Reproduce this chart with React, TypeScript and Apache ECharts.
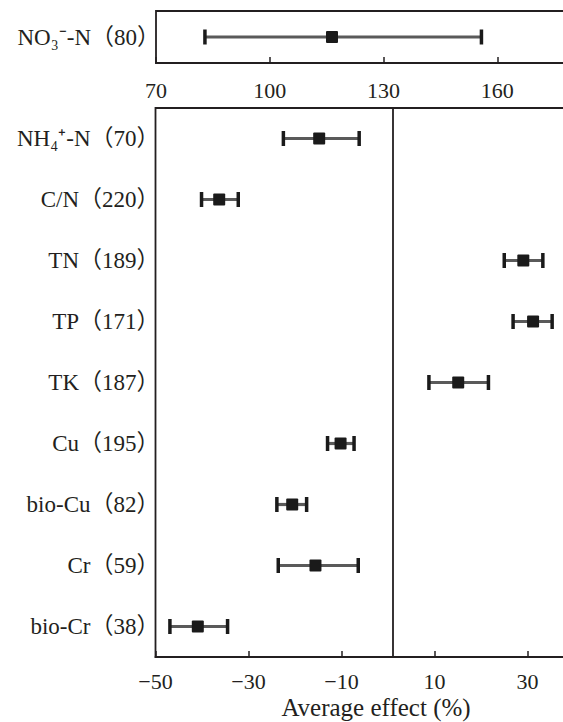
import React, { useEffect, useRef } from "react";
import * as echarts from "echarts";

// ---- data ----
const topCategories = ["NO₃⁻-N（80）"];
const topMeans = [116.4];
const topLower = [82.9];
const topUpper = [155.8];
const topTicks = [70, 100, 130, 160];

const categories = [
  "NH₄⁺-N（70）",
  "C/N（220）",
  "TN（189）",
  "TP（171）",
  "TK（187）",
  "Cu（195）",
  "bio-Cu（82）",
  "Cr（59）",
  "bio-Cr（38）",
];
const means = [-14.8, -36.3, 29.1, 31.2, 15.1, -10.2, -20.6, -15.6, -40.9];
const lower = [-22.5, -40.1, 25.0, 26.9, 8.8, -13.0, -23.9, -23.6, -46.9];
const upper = [-6.2, -32.2, 33.3, 35.3, 21.6, -7.3, -17.5, -6.4, -34.5];
const bottomTicks = [-50, -30, -10, 10, 30];
const referenceLine = 1;
const xAxisTitle = "Average effect (%)";

const FONT = "'Liberation Serif', 'Times New Roman', 'Noto Sans CJK SC', serif";
const TEXT = "#231f20";

function renderErrorBar(params: any, api: any) {
  const yi = api.value(0);
  const lo = api.coord([api.value(1), yi]);
  const hi = api.coord([api.value(2), yi]);
  const m = api.coord([api.value(3), yi]);
  const cap = 7.5;
  const s = 12;
  return {
    type: "group",
    children: [
      {
        type: "line",
        shape: { x1: lo[0], y1: lo[1], x2: hi[0], y2: hi[1] },
        style: { stroke: "#5a5a5a", lineWidth: 3.2 },
      },
      {
        type: "line",
        shape: { x1: lo[0], y1: lo[1] - cap, x2: lo[0], y2: lo[1] + cap },
        style: { stroke: "#1a1a1a", lineWidth: 3.5 },
      },
      {
        type: "line",
        shape: { x1: hi[0], y1: hi[1] - cap, x2: hi[0], y2: hi[1] + cap },
        style: { stroke: "#1a1a1a", lineWidth: 3.5 },
      },
      {
        type: "rect",
        shape: { x: m[0] - s / 2, y: m[1] - s / 2, width: s, height: s, r: 1 },
        style: { fill: "#1a1a1a" },
      },
    ],
  };
}

export default function App() {
  const ref = useRef<HTMLDivElement>(null);
  useEffect(() => {
    document.body.style.margin = "0";
    const chart = echarts.init(ref.current!, null, { renderer: "svg" });
    const labelFmt = (ticks: number[]) => (v: number) =>
      ticks.some((t) => Math.abs(t - v) < 1e-6) ? String(v).replace("-", "−") : "";
    chart.setOption({
      animation: false,
      backgroundColor: "#ffffff",
      grid: [
        {
          left: 156,
          right: -6,
          top: 11,
          height: 52,
          show: true,
          borderColor: TEXT,
          borderWidth: 1.8,
          containLabel: false,
          outerBoundsMode: "none",
        },
        {
          left: 155.5,
          right: -6,
          top: 108,
          height: 549,
          show: true,
          borderColor: TEXT,
          borderWidth: 1.8,
          containLabel: false,
          outerBoundsMode: "none",
        },
      ],
      xAxis: [
        {
          type: "value",
          gridIndex: 0,
          min: 70,
          max: 70 + (569 - 156) / 3.793,
          interval: 30,
          splitLine: { show: false },
          axisLine: { show: true, lineStyle: { color: TEXT, width: 1.8 } },
          axisTick: { show: true, inside: true, length: 6, lineStyle: { color: TEXT, width: 1.5 } },
          axisLabel: {
            formatter: labelFmt(topTicks),
            fontFamily: FONT,
            fontSize: 22,
            color: TEXT,
            margin: 16,
          },
        },
        {
          type: "value",
          gridIndex: 1,
          min: -50,
          max: -50 + (569 - 155.5) / 4.65,
          interval: 20,
          splitLine: { show: false },
          axisLine: { show: true, lineStyle: { color: TEXT, width: 1.8 } },
          axisTick: { show: true, inside: true, length: 6, lineStyle: { color: TEXT, width: 1.5 } },
          axisLabel: {
            formatter: labelFmt(bottomTicks),
            fontFamily: FONT,
            fontSize: 22,
            color: TEXT,
            margin: 13,
          },
        },
      ],
      yAxis: [
        {
          type: "category",
          gridIndex: 0,
          data: topCategories,
          inverse: true,
          axisLine: { show: false },
          axisTick: { show: false },
          axisLabel: { fontFamily: FONT, fontSize: 23, color: TEXT, margin: -4 },
        },
        {
          type: "category",
          gridIndex: 1,
          data: categories,
          inverse: true,
          axisLine: { show: false },
          axisTick: { show: false },
          axisLabel: { fontFamily: FONT, fontSize: 23, color: TEXT, margin: -4 },
        },
      ],
      graphic: [
        {
          type: "text",
          x: 376,
          y: 707,
          style: {
            text: xAxisTitle,
            font: `25px ${FONT}`,
            fill: TEXT,
            textAlign: "center",
            textVerticalAlign: "middle",
          },
        },
      ],
      series: [
        {
          type: "custom",
          xAxisIndex: 0,
          yAxisIndex: 0,
          renderItem: renderErrorBar,
          encode: { x: [1, 2, 3], y: 0 },
          data: topCategories.map((_, i) => [i, topLower[i], topUpper[i], topMeans[i]]),
        },
        {
          type: "custom",
          xAxisIndex: 1,
          yAxisIndex: 1,
          renderItem: renderErrorBar,
          encode: { x: [1, 2, 3], y: 0 },
          data: categories.map((_, i) => [i, lower[i], upper[i], means[i]]),
          markLine: {
            silent: true,
            symbol: "none",
            label: { show: false },
            lineStyle: { color: TEXT, width: 1.8, type: "solid" },
            data: [{ xAxis: referenceLine }],
          },
        },
      ],
    });
    return () => chart.dispose();
  }, []);
  return <div ref={ref} style={{ width: 563, height: 722 }} />;
}
